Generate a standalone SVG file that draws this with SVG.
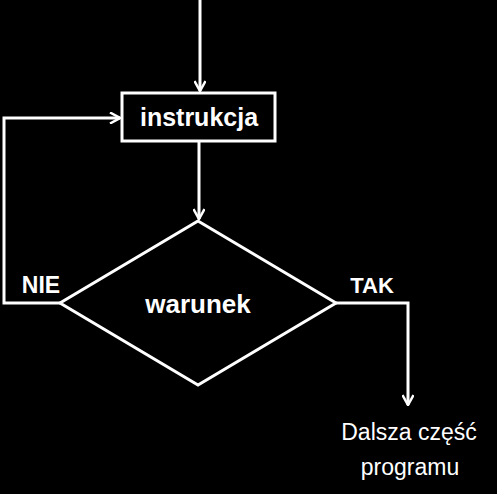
<svg xmlns="http://www.w3.org/2000/svg" width="497" height="494" viewBox="0 0 497 494">
<style>
.ln{fill:none;stroke:#fff;stroke-width:3}
.t{fill:#fff;font-family:"Liberation Sans",Arial,sans-serif;text-anchor:middle}
.b{font-weight:bold}
</style>
<defs>
<marker id="arr" viewBox="0 0 12 12" refX="11" refY="6" markerWidth="12" markerHeight="12" markerUnits="userSpaceOnUse" orient="auto">
<path d="M1,0.5 L11,6 L1,11.5" fill="none" stroke="#fff" stroke-width="2.5"/>
</marker>
</defs>
<rect width="497" height="494" fill="#000"/>
<g id="connectors">
<path class="ln" d="M200,0 V91" marker-end="url(#arr)"/>
<path class="ln" d="M199,141 V219" marker-end="url(#arr)"/>
<path class="ln" d="M60,303 H4 V118 H120" marker-end="url(#arr)"/>
<path class="ln" d="M336,303 H408 V405" marker-end="url(#arr)"/>
</g>
<g id="instrukcja">
<rect class="ln" x="122" y="93" width="153" height="48"/>
<text class="t b" x="199" y="126" font-size="25">instrukcja</text>
</g>
<g id="warunek">
<path class="ln" d="M198,221 L336,303 L198,385 L60,303 Z"/>
<text class="t b" x="198" y="313" font-size="26">warunek</text>
</g>
<g id="labels">
<text class="t b" x="41" y="293" font-size="23">NIE</text>
<text class="t b" x="372" y="293" font-size="22">TAK</text>
</g>
<g id="dalsza">
<text class="t" x="409" y="440" font-size="23">Dalsza część</text>
<text class="t" x="410" y="475" font-size="23">programu</text>
</g>
</svg>
